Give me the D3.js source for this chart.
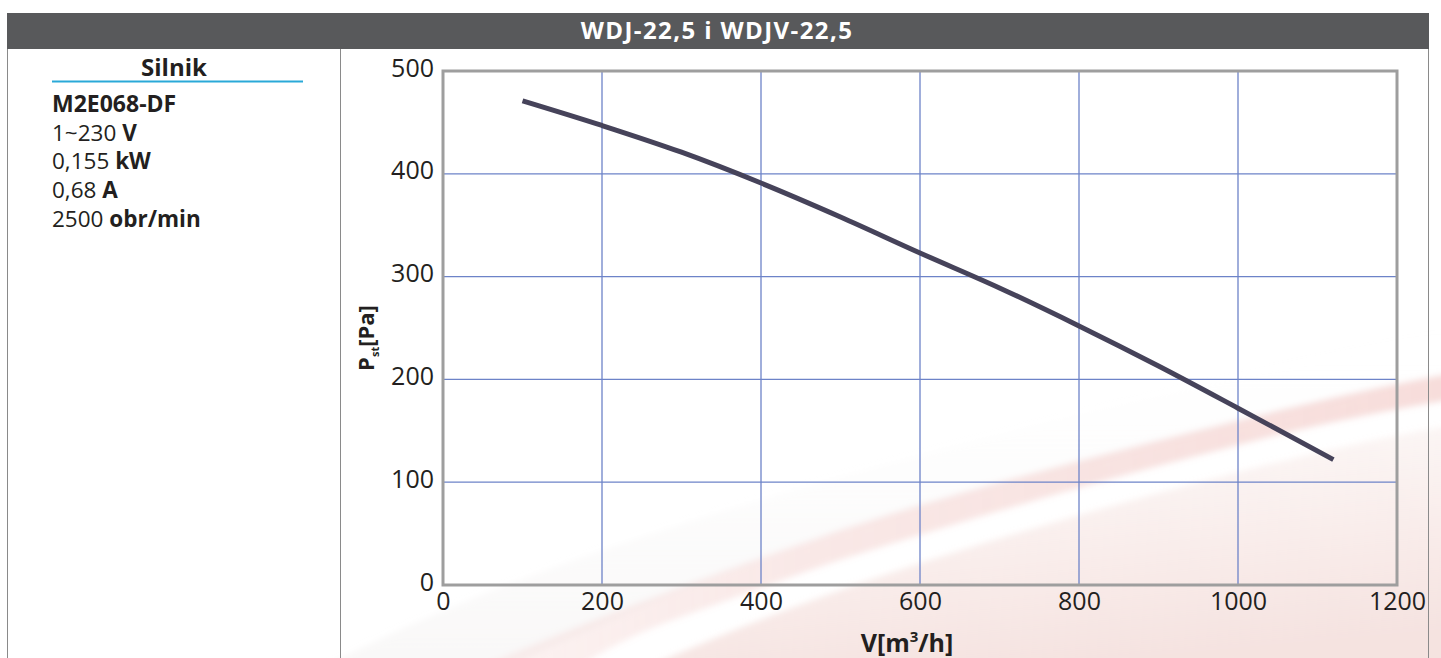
<!DOCTYPE html>
<html>
<head>
<meta charset="utf-8">
<script src="https://cdn.jsdelivr.net/npm/d3@7"></script>
<style>
  body { margin: 0; background: #fff; }
  svg { display: block; font-family: "Open Sans", "Noto Sans", sans-serif; }
</style>
</head>
<body>
<div id="chart"></div>
<script>
// Chart data
const title = 'WDJ-22,5 i WDJV-22,5';
const motorModel = 'M2E068-DF';
const motorSpecs = [
  ['1~230 ', 'V'],
  ['0,155 ', 'kW'],
  ['0,68 ', 'A'],
  ['2500 ', 'obr/min']
];
const xTicks = [0, 200, 400, 600, 800, 1000, 1200];
const yTicks = [0, 100, 200, 300, 400, 500];
// Fan curve: airflow [m3/h] vs static pressure [Pa]
const flow = [100, 200, 300, 400, 500, 600, 700, 800, 900, 1000, 1120];
const pressure = [471, 447, 421, 391, 358, 323, 289, 252, 213, 172, 122];

const width = 1441;
const height = 658;
const fontStack = '"Open Sans", "Noto Sans", sans-serif';

const svg = d3.select('#chart')
  .append('svg')
  .attr('width', width)
  .attr('height', height);

// Decorative background swoosh
const defs = svg.append('defs');
const bandGrad = defs.append('linearGradient').attr('id', 'band')
  .attr('x1', '0%').attr('y1', '0%').attr('x2', '100%').attr('y2', '0%');
bandGrad.append('stop').attr('offset', '0%').attr('stop-color', '#e8a09a').attr('stop-opacity', 0.12);
bandGrad.append('stop').attr('offset', '35%').attr('stop-color', '#e8a09a').attr('stop-opacity', 0.24);
bandGrad.append('stop').attr('offset', '100%').attr('stop-color', '#e8a09a').attr('stop-opacity', 0.36);

const washGrad = defs.append('linearGradient').attr('id', 'wash')
  .attr('x1', '0%').attr('y1', '0%').attr('x2', '30%').attr('y2', '100%');
washGrad.append('stop').attr('offset', '0%').attr('stop-color', '#efd0cc').attr('stop-opacity', 0.05);
washGrad.append('stop').attr('offset', '100%').attr('stop-color', '#efd0cc').attr('stop-opacity', 0.6);

const greyGrad = defs.append('linearGradient').attr('id', 'grey')
  .attr('x1', '0%').attr('y1', '0%').attr('x2', '0%').attr('y2', '100%');
greyGrad.append('stop').attr('offset', '0%').attr('stop-color', '#f0f0f0').attr('stop-opacity', 0);
greyGrad.append('stop').attr('offset', '100%').attr('stop-color', '#ebe7e6').attr('stop-opacity', 0.3);

defs.append('filter').attr('id', 'soft')
  .attr('filterUnits', 'userSpaceOnUse')
  .attr('x', 0).attr('y', 0).attr('width', width).attr('height', height)
  .append('feGaussianBlur').attr('stdDeviation', 3);

const decor = svg.append('g').attr('filter', 'url(#soft)');
// faint grey shading above the band
decor.append('path')
  .attr('d', 'M300,680 C500,570 800,470 1460,326 L1460,372 C1250,420 1080,462 920,507 C800,540 650,600 480,680 Z')
  .attr('fill', 'url(#grey)');
// pink wash below the band
decor.append('path')
  .attr('d', 'M620,680 C780,605 930,558 1090,512 C1250,468 1350,442 1460,424 L1460,680 Z')
  .attr('fill', 'url(#wash)');
// the band itself
decor.append('path')
  .attr('d', 'M450,680 C560,632 620,610 673,590 C720,572 780,551 840,530 C950,494 1080,460 1200,430 C1300,405 1370,388 1460,372 '
    + 'L1460,398 C1370,413 1300,428 1200,455 C1080,486 960,522 840,560 C780,580 730,600 673,620 C640,632 600,650 560,680 Z')
  .attr('fill', 'url(#band)');

// Header bar
svg.append('rect')
  .attr('x', 7).attr('y', 13)
  .attr('width', 1422).attr('height', 36)
  .attr('fill', '#58595b');

svg.append('text')
  .attr('x', 717).attr('y', 39)
  .attr('text-anchor', 'middle')
  .attr('fill', '#fff')
  .attr('font-size', 24)
  .attr('font-weight', 700)
  .attr('letter-spacing', 1.4)
  .text(title);

// Panel borders
[7.5, 340.5, 1428.5].forEach(x => {
  svg.append('line')
    .attr('x1', x).attr('x2', x)
    .attr('y1', 49).attr('y2', height)
    .attr('stroke', '#8a8a8a')
    .attr('stroke-width', 1);
});

// Left info panel
svg.append('text')
  .attr('x', 174).attr('y', 76)
  .attr('text-anchor', 'middle')
  .attr('font-size', 24)
  .attr('font-weight', 700)
  .attr('fill', '#231f20')
  .text('Silnik');

svg.append('line')
  .attr('x1', 52).attr('x2', 303)
  .attr('y1', 81.5).attr('y2', 81.5)
  .attr('stroke', '#2aa9d8')
  .attr('stroke-width', 2);

svg.append('text')
  .attr('x', 52).attr('y', 112)
  .attr('font-size', 23)
  .attr('font-weight', 700)
  .attr('fill', '#231f20')
  .text(motorModel);

motorSpecs.forEach((d, i) => {
  const t = svg.append('text')
    .attr('x', 52).attr('y', 140.5 + i * 28.7)
    .attr('font-size', 22.5)
    .attr('fill', '#231f20');
  t.append('tspan').text(d[0]);
  t.append('tspan').attr('font-weight', 700).text(d[1]);
});

// Plot area
const x = d3.scaleLinear().domain([0, 1200]).range([443, 1397]);
const y = d3.scaleLinear().domain([0, 500]).range([585, 71]);

const grid = svg.append('g');
grid.selectAll('line.v')
  .data(xTicks.slice(1, -1))
  .enter().append('line')
  .attr('x1', d => x(d)).attr('x2', d => x(d))
  .attr('y1', y(500)).attr('y2', y(0))
  .attr('stroke', '#6d83c8')
  .attr('stroke-width', 1.3);

grid.selectAll('line.h')
  .data(yTicks.slice(1, -1))
  .enter().append('line')
  .attr('x1', x(0)).attr('x2', x(1200))
  .attr('y1', d => y(d)).attr('y2', d => y(d))
  .attr('stroke', '#6d83c8')
  .attr('stroke-width', 1.3);

// Frame
svg.append('rect')
  .attr('x', x(0)).attr('y', y(500))
  .attr('width', x(1200) - x(0))
  .attr('height', y(0) - y(500))
  .attr('fill', 'none')
  .attr('stroke', '#9e9e9e')
  .attr('stroke-width', 3);

// Axes (labels only)
const yAxis = svg.append('g')
  .attr('transform', `translate(${x(0) - 9},0)`)
  .call(d3.axisLeft(y).tickValues(yTicks).tickSize(0).tickPadding(0).tickFormat(d3.format('d')));
yAxis.select('.domain').remove();
yAxis.selectAll('text')
  .attr('font-size', 25)
  .attr('fill', '#231f20')
  .attr('font-family', fontStack)
  .attr('dy', '0.2em');

const xAxis = svg.append('g')
  .attr('transform', `translate(0,${y(0) + 7})`)
  .call(d3.axisBottom(x).tickValues(xTicks).tickSize(0).tickPadding(0).tickFormat(d3.format('d')));
xAxis.select('.domain').remove();
xAxis.selectAll('text')
  .attr('font-size', 25)
  .attr('fill', '#231f20')
  .attr('font-family', fontStack);

// Axis titles
const xt = svg.append('text')
  .attr('x', 907).attr('y', 652)
  .attr('text-anchor', 'middle')
  .attr('font-size', 25)
  .attr('font-weight', 700)
  .attr('fill', '#231f20');
xt.append('tspan').text('V[m');
xt.append('tspan').attr('font-size', 15).attr('dy', -10).text('3');
xt.append('tspan').attr('dy', 10).text('/h]');

const yt = svg.append('text')
  .attr('transform', 'translate(374,338) rotate(-90)')
  .attr('text-anchor', 'middle')
  .attr('font-size', 22)
  .attr('font-weight', 700)
  .attr('fill', '#231f20');
yt.append('tspan').text('P');
yt.append('tspan').attr('font-size', 11).attr('dy', 5).text('st');
yt.append('tspan').attr('dy', -5).text('[Pa]');

// Fan curve
const points = flow.map((f, i) => [f, pressure[i]]);
svg.append('path')
  .datum(points)
  .attr('fill', 'none')
  .attr('stroke', '#46435a')
  .attr('stroke-width', 5)
  .attr('d', d3.line()
    .x(d => x(d[0]))
    .y(d => y(d[1]))
    .curve(d3.curveMonotoneX));
</script>
</body>
</html>
